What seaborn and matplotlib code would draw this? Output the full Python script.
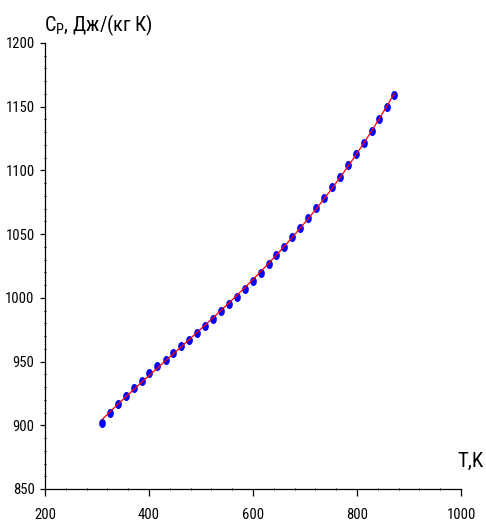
import numpy as np
import pandas as pd
import matplotlib
matplotlib.use("Agg")
import matplotlib.pyplot as plt
from matplotlib.path import Path
from matplotlib.ticker import MultipleLocator
import seaborn as sns

# Temperature, K
temperature = [310.2, 324.4, 340.4, 355.2, 370.6, 386.0, 400.6, 416.0, 432.1, 446.7,
               461.5, 477.5, 492.3, 507.7, 523.1, 538.5, 553.3, 568.7, 584.0, 599.4,
               614.8, 630.2, 644.8, 660.2, 675.6, 690.4, 706.3, 721.2, 736.5, 751.9,
               767.3, 782.7, 798.1, 813.5, 828.3, 842.9, 857.1, 871.7]
# Specific heat capacity, J/(kg K)
cp = [902.0, 909.9, 916.5, 923.0, 929.3, 935.0, 940.8, 946.3, 951.2, 956.7,
      962.0, 966.9, 972.7, 977.9, 983.4, 989.4, 995.4, 1000.9, 1007.2, 1013.5,
      1019.7, 1026.6, 1033.4, 1040.1, 1047.5, 1055.1, 1062.7, 1070.5, 1078.6, 1086.8,
      1095.1, 1104.0, 1112.7, 1121.8, 1131.2, 1140.4, 1149.8, 1159.2]

x_ticks = [200, 400, 600, 800, 1000]
y_ticks = [850, 900, 950, 1000, 1050, 1100, 1150, 1200]

df = pd.DataFrame({"T": temperature, "Cp": cp})

sns.set_theme(style="white")
plt.rcParams["font.family"] = ["Roboto Condensed", "Liberation Sans", "DejaVu Sans"]
plt.rcParams["mathtext.default"] = "regular"

fig = plt.figure(figsize=(4.86, 5.24), dpi=100)
ax = fig.add_axes([45 / 486, 1 - 489 / 524, 416 / 486, 446 / 524])

# slightly tall elliptical dot
t = np.linspace(0, 2 * np.pi, 40)
ellipse = Path(np.column_stack([0.74 * np.cos(t), np.sin(t)]), closed=True)

sns.scatterplot(data=df, x="T", y="Cp", ax=ax, marker=ellipse, s=42,
                color="#0000ff", linewidth=0, zorder=2, legend=False)
sns.regplot(data=df, x="T", y="Cp", ax=ax, order=3, ci=None, scatter=False,
            line_kws=dict(color="#ff0000", lw=0.9, zorder=3))

ax.set_xlim(200, 1000)
ax.set_ylim(850, 1200)
ax.set_xticks(x_ticks)
ax.set_yticks(y_ticks)
ax.xaxis.set_minor_locator(MultipleLocator(40))
ax.yaxis.set_minor_locator(MultipleLocator(10))

for s in ("top", "right"):
    ax.spines[s].set_visible(False)
for s in ("left", "bottom"):
    ax.spines[s].set_color("black")
    ax.spines[s].set_linewidth(0.9)

ax.tick_params(axis="x", which="major", direction="out", length=5, width=0.9,
               color="black", labelsize=10.5, pad=9, labelcolor="black")
ax.tick_params(axis="y", which="major", direction="out", length=3.5, width=0.9,
               color="black", labelsize=10.5, pad=4, labelcolor="black")
ax.tick_params(which="minor", direction="inout", length=2, width=0.7, color="black")
ax.tick_params(bottom=True, left=True, which="both")

ax.set_xlabel("T,K", fontsize=15, color="black", ha="right", va="baseline")
ax.xaxis.set_label_coords((484 - 45) / 416, (489 - 467) / 446)
ax.set_ylabel(r"$C_P$, Дж/(кг К)", fontsize=14.5, color="black", rotation=0,
              ha="left", va="baseline")
ax.yaxis.set_label_coords(-0.002, (489 - 31) / 446)

ax.grid(False)
fig.savefig("out.png", dpi=100, facecolor="white")
